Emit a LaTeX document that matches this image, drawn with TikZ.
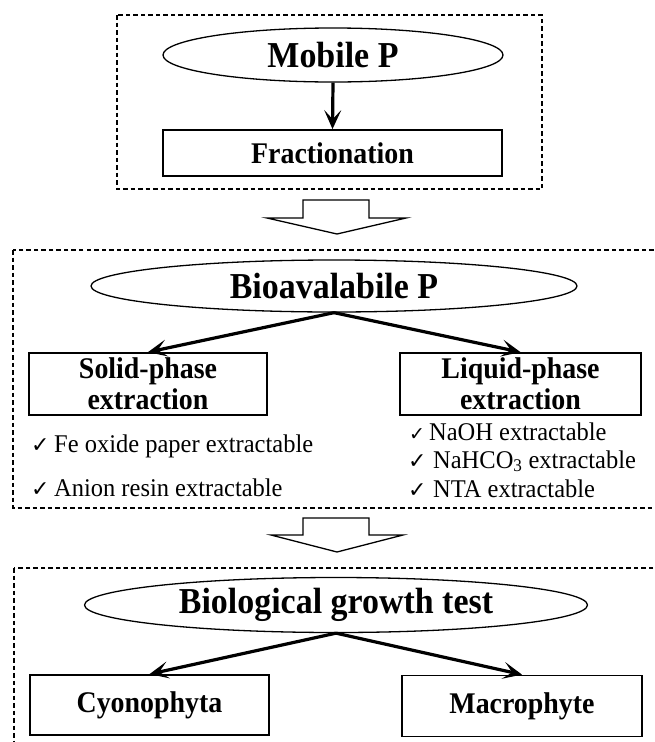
\documentclass[tikz,border=0pt]{standalone}
\usepackage{fontspec}
\setmainfont{Liberation Serif}
\newfontfamily\hdfont[FakeStretch=0.93]{Liberation Serif}
\newfontfamily\itfont[FakeStretch=0.96]{Liberation Serif}
\newfontfamily\dejavu{DejaVu Sans}
\usetikzlibrary{shapes.geometric,arrows.meta}
\tikzset{
 grp/.style={draw, line width=1.1pt, dash pattern=on 4.5pt off 3pt},
 oval/.style={draw, ellipse, line width=1.3pt, inner sep=0pt, font=\hdfont\fontsize{36.5}{40}\selectfont\bfseries},
 box/.style={draw, rectangle, line width=1.8pt, inner sep=0pt, align=center, font=\hdfont\fontsize{30}{31}\selectfont\bfseries},
 link/.style={line width=3.2pt, -{Stealth[length=19pt,width=17pt,inset=9pt]}},
 hollow/.style={draw, line width=1.3pt, fill=white},
 item/.style={anchor=base west, inner sep=0pt, font=\itfont\fontsize{25.5}{27}\selectfont},
 chk/.style={anchor=base west, inner sep=0pt, font=\dejavu\fontsize{22}{22}\selectfont},
 chks/.style={chk, font=\dejavu\fontsize{19}{19}\selectfont},
}
\begin{document}
\begin{tikzpicture}[x=1pt,y=-1pt]
\useasboundingbox (0,0) rectangle (654,742);
\fill[white] (0,0) rectangle (654,742);
\clip (0,0) rectangle (654,742);

% dashed groups
\draw[grp] (117,15) rectangle (542,189);
\draw[grp] (13,250) rectangle (664,508);
\draw[grp] (14,568) rectangle (664,770);

% group 1
\node[oval, minimum width=340pt, minimum height=54pt] (mob) at (333,55) {Mobile P};
\node[box, minimum width=339pt, minimum height=46pt] (frac) at (332.5,153) {Fractionation};
\draw[link] (mob.south) -- (frac.north);

% hollow arrow 1
\draw[hollow] (303,200) -- (369,200) -- (369,218) -- (406,218) -- (337,234) -- (267,218) -- (303,218) -- cycle;

% group 2
\node[oval, minimum width=486pt, minimum height=52pt] (bio) at (334,286) {Bioavalabile P};
\node[box, minimum width=238pt, minimum height=62pt] (solid) at (148,384) {Solid-phase\\extraction};
\node[box, minimum width=241pt, minimum height=62pt] (liquid) at (520.5,384) {Liquid-phase\\extraction};
\draw[link] (bio.south) -- (solid.north);
\draw[link] (bio.south) -- (liquid.north);

\node[chk] (c1) at (31,452) {✓};
\node[item] (t1) at (54,452) {Fe oxide paper extractable};
\node[chk] (c2) at (31,496) {✓};
\node[item] (t2) at (54,496) {Anion resin extractable};
\node[chks] (c3) at (409,440) {✓};
\node[item] (t3) at (429,440) {NaOH extractable};
\node[chk] (c4) at (408,468) {✓};
\node[item] (t4) at (433,468) {NaHCO\textsubscript{3} extractable};
\node[chk] (c5) at (408,497) {✓};
\node[item] (t5) at (433,497) {NTA extractable};

% hollow arrow 2
\draw[hollow] (303,518) -- (369,518) -- (369,535) -- (403,535) -- (337,552) -- (271,535) -- (303,535) -- cycle;

% group 3
\node[oval, minimum width=503pt, minimum height=55pt] (bgt) at (336,605) {Biological growth test};
\node[box, minimum width=239pt, minimum height=60pt] (cyo) at (149.5,705) {Cyonophyta};
\node[box, minimum width=240pt, minimum height=61pt] (mac) at (522,706) {Macrophyte};
\draw[link] (bgt.south) -- (cyo.north);
\draw[link] (bgt.south) -- (mac.north);
\end{tikzpicture}
\end{document}
